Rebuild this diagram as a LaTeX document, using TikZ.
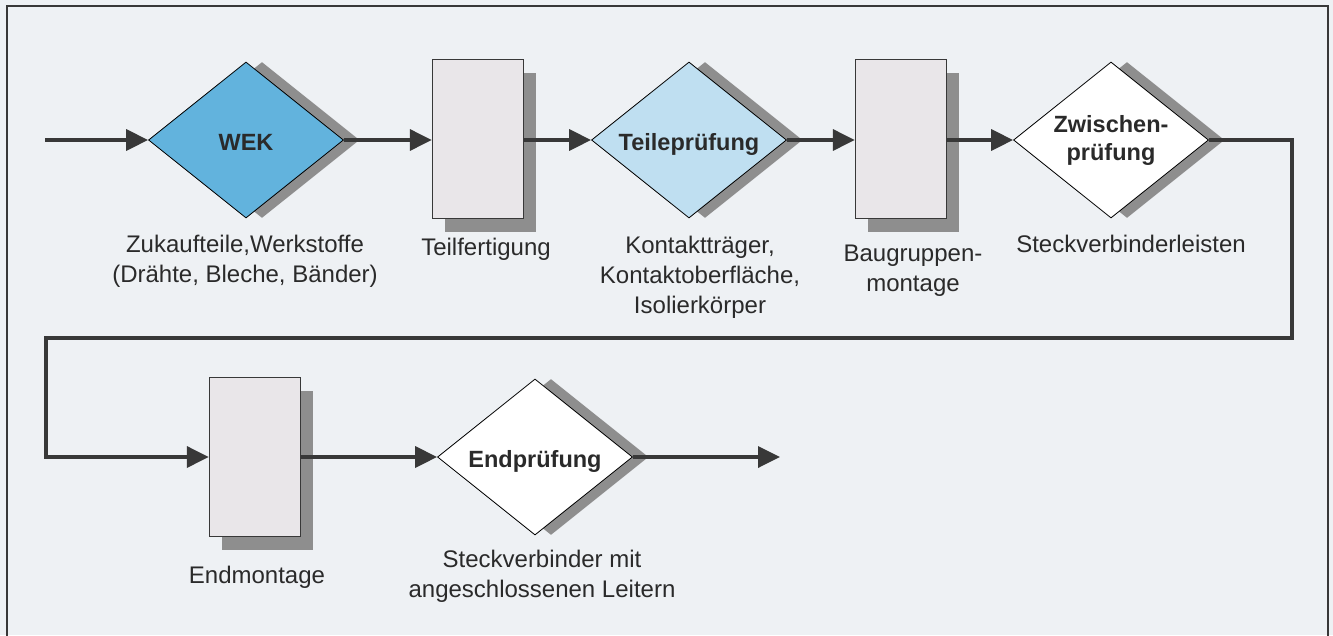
\documentclass[tikz,border=0pt]{standalone}
\usepackage{fontspec}
\setmainfont{Liberation Sans}
\usetikzlibrary{shapes.geometric,shadows,arrows.meta}
\definecolor{bgcol}{HTML}{EEF1F4}
\definecolor{linecol}{HTML}{383838}
\definecolor{txtcol}{HTML}{2A2A2A}
\definecolor{shadowgray}{HTML}{8E8E8E}
\definecolor{boxfill}{HTML}{E9E6E9}
\definecolor{wekblue}{HTML}{62B3DD}
\definecolor{lightblue}{HTML}{BFDFF1}
\tikzset{
  dia/.style={shape=diamond, aspect=1.25, minimum width=195pt, minimum height=156pt,
    inner sep=0pt, draw=black, line width=0.8pt, fill=white, align=center,
    font=\fontsize{23.5}{28}\selectfont\bfseries, text=txtcol,
    general shadow={fill=shadowgray, shadow xshift=16pt}},
  oneline/.style={text height=21pt, text depth=0pt},
  procbox/.style={rectangle, minimum width=91pt, minimum height=159pt, inner sep=0pt,
    draw=linecol, line width=1.4pt, fill=boxfill,
    general shadow={fill=shadowgray, shadow xshift=12pt, shadow yshift=-13pt}},
  lbl/.style={anchor=base, align=center, inner sep=0pt, text=txtcol,
    font=\fontsize{24}{30}\selectfont},
  flow/.style={line width=3.5pt, draw=linecol, -{Triangle[length=22pt,width=21pt]}},
}
\begin{document}
\begin{tikzpicture}[x=1pt,y=-1pt]
\useasboundingbox (0,0) rectangle (1333,635);
\fill[bgcol] (0,0) rectangle (1333,635);
\draw[linecol, line width=1.5pt] (7,645) -- (7,6) -- (1328,6) -- (1328,645);

% nodes
\node[dia, oneline, fill=wekblue] (wek) at (246,140) {WEK};
\node[procbox] (tf) at (478,139) {};
\node[dia, oneline, fill=lightblue] (tp) at (689,140) {Teileprüfung};
\node[procbox] (bg) at (901,139) {};
\node[dia] (zp) at (1111,140) {Zwischen-\\prüfung};
\node[procbox] (em) at (255,457) {};
\node[dia, oneline] (ep) at (535,457) {Endprüfung};

% labels (anchor = baseline of last line)
\node[lbl] (l1) at (245,282) {Zukaufteile,Werkstoffe\\(Drähte, Bleche, Bänder)};
\node[lbl] (l2) at (486,255) {Teilfertigung};
\node[lbl] (l3) at (700,313) {Kontaktträger,\\Kontaktoberfläche,\\Isolierkörper};
\node[lbl] (l4) at (913,291) {Baugruppen-\\montage};
\node[lbl] (l5) at (1131,252) {Steckverbinderleisten};
\node[lbl] (l6) at (257,583) {Endmontage};
\node[lbl] (l7) at (542,597) {Steckverbinder mit\\angeschlossenen Leitern};

% connectors
\coordinate (start) at (45,140);
\coordinate (loopR) at (1292,338);
\coordinate (loopL) at (46,338);
\coordinate (finish) at (780,457);
\draw[flow] (start) -- (wek.west);
\draw[flow] (wek.east) -- (wek.east -| tf.west);
\draw[flow] (tf.east |- tp.west) -- (tp.west);
\draw[flow] (tp.east) -- (tp.east -| bg.west);
\draw[flow] (bg.east |- zp.west) -- (zp.west);
\draw[flow] (zp.east) -| (loopR) -- (loopL) |- (em.west);
\draw[flow] (em.east |- ep.west) -- (ep.west);
\draw[flow] (ep.east) -- (finish);
\end{tikzpicture}
\end{document}
